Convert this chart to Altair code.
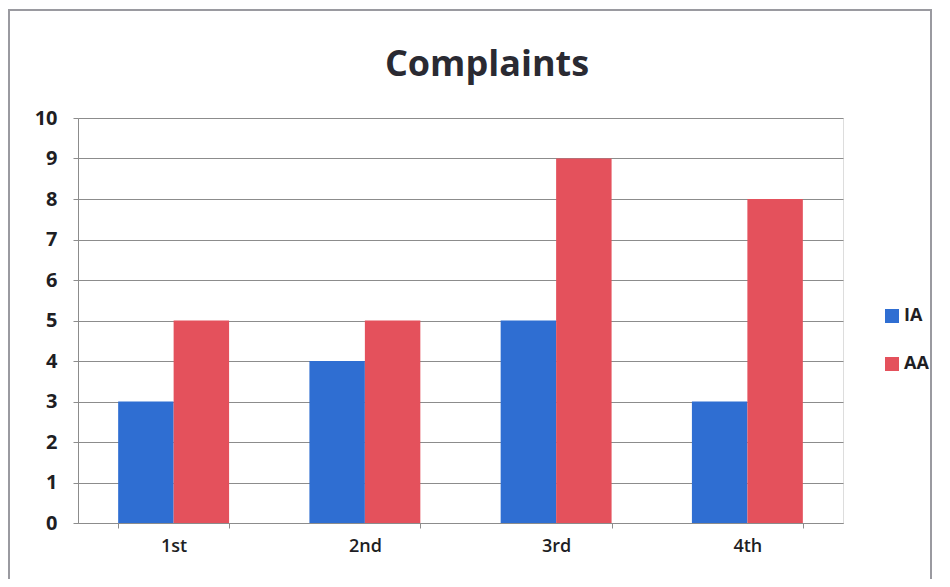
import altair as alt
import pandas as pd

quarters = ["1st", "2nd", "3rd", "4th"]
series = ["IA", "AA"]
ia_values = [3, 4, 5, 3]
aa_values = [5, 5, 9, 8]
y_ticks = [0, 1, 2, 3, 4, 5, 6, 7, 8, 9, 10]
colors = ["#2F6ED2", "#E4515C"]
chart_title = "Complaints"

rows = []
for q, a, b in zip(quarters, ia_values, aa_values):
    rows.append({"Quarter": q, "Series": "IA", "Count": a})
    rows.append({"Quarter": q, "Series": "AA", "Count": b})
df = pd.DataFrame(rows)

W, H = 765, 405
FONT = "Open Sans"
TXT = "#1e1e24"
GRID = "#8c8c8c"

bars = alt.Chart(df).mark_bar().encode(
    x=alt.X(
        "Quarter:N",
        sort=quarters,
        title=None,
        scale=alt.Scale(paddingInner=0.42, paddingOuter=0.21),
        axis=alt.Axis(
            labelAngle=0,
            labelFont=FONT,
            labelFontSize=18,
            labelFontWeight=600,
            labelColor=TXT,
            labelPadding=9,
            tickBand="extent",
            ticks=True,
            tickSize=5,
            tickColor=GRID,
            domainColor=GRID,
            grid=False,
        ),
    ),
    xOffset=alt.XOffset("Series:N", sort=series),
    y=alt.Y(
        "Count:Q",
        title=None,
        scale=alt.Scale(domain=[0, 10], nice=False),
        axis=alt.Axis(
            values=y_ticks,
            labelFont=FONT,
            labelFontSize=20,
            labelFontWeight="bold",
            labelColor=TXT,
            labelPadding=16,
            tickSize=5,
            tickColor=GRID,
            domainColor=GRID,
            gridColor=GRID,
            grid=True,
        ),
    ),
    color=alt.Color(
        "Series:N",
        sort=series,
        scale=alt.Scale(domain=series, range=colors),
        legend=alt.Legend(
            title=None,
            orient="none",
            legendX=805,
            legendY=189,
            symbolType="square",
            symbolSize=196,
            symbolStrokeWidth=0,
            labelFont=FONT,
            labelFontSize=18,
            labelFontWeight="bold",
            labelColor=TXT,
            labelOffset=3,
            rowPadding=30,
        ),
    ),
)

frame = alt.Chart(pd.DataFrame({"f": [0]})).mark_rect(
    fillOpacity=0, stroke="#9a9aa0", strokeWidth=2, clip=False
).encode(
    x=alt.value(-69), x2=alt.value(853), y=alt.value(-108), y2=alt.value(480)
)

title = alt.Chart(pd.DataFrame({"t": [chart_title]})).mark_text(
    font=FONT, fontSize=36, fontWeight="bold", color="#2a2a32",
    align="center", baseline="alphabetic"
).encode(
    text="t:N", x=alt.value(409), y=alt.value(-42)
)

chart = alt.layer(frame, bars, title).properties(
    width=W,
    height=H,
    autosize=alt.AutoSizeParams(type="none"),
    padding={"left": 70, "top": 110, "right": 99, "bottom": 56},
).configure_view(stroke=None).configure(background="white")

chart.save("out.html", embed_options={"renderer": "svg", "actions": False})
